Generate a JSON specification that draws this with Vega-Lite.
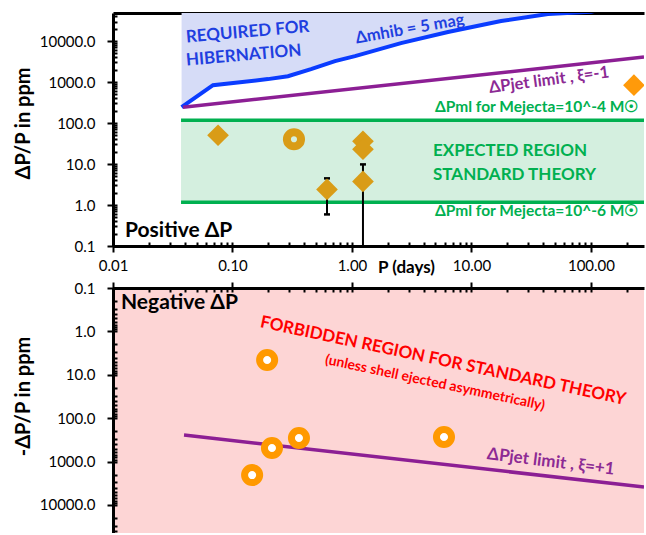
{
  "$schema": "https://vega.github.io/schema/vega-lite/v6.json",
  "background": "white",
  "padding": {"left": 13, "top": 13, "right": 0, "bottom": 0},
  "spacing": 42,
  "bounds": "flush",
  "config": {
    "font": "Lato",
    "view": {"stroke": null},
    "axis": {"domainColor": "black", "domainWidth": 3, "tickColor": "black", "tickWidth": 2, "labelFont": "Lato", "labelFontSize": 15, "labelColor": "black", "titleFont": "Lato", "titleFontSize": 20, "titleFontWeight": "bold", "titleColor": "black", "grid": false, "labelFlush": false, "labelOverlap": false}
  },
  "vconcat": [
    {
      "width": 531,
      "height": 233,
      "resolve": {"axis": {"x": "independent", "y": "independent"}},
      "layer": [
        {
          "data": {"values": [{"P": 0.0375, "v": 243}, {"P": 0.0687, "v": 840}, {"P": 0.198, "v": 1180}, {"P": 0.291, "v": 1390}, {"P": 0.454, "v": 2070}, {"P": 0.721, "v": 3240}, {"P": 1.06, "v": 4300}, {"P": 2.57, "v": 8930}, {"P": 6.36, "v": 16600}, {"P": 17.7, "v": 30800}, {"P": 43.7, "v": 45700}, {"P": 100, "v": 52000}, {"P": 278, "v": 95000}]},
          "mark": {"type": "area", "color": "#d6dcf7", "clip": true},
          "encoding": {
            "x": {"field": "P", "type": "quantitative", "scale": {"type": "log", "domain": [0.01, 278], "nice": false}, "axis": {"orient": "bottom", "values": [0.01, 0.1, 1, 10, 100], "format": ".2f", "tickSize": 6, "labelPadding": 6, "title": "P (days)", "titleFontSize": 17, "titleX": 293, "titleY": 21, "titleBaseline": "middle", "titleAlign": "center", "titleAnchor": null}},
            "y": {"field": "v", "type": "quantitative", "scale": {"type": "log", "domain": [0.1, 48400], "nice": false}, "axis": {"orient": "left", "values": [0.1, 1, 10, 100, 1000, 10000], "format": ".1f", "tickSize": 6, "labelPadding": 12, "title": "ΔP/P  in ppm", "titlePadding": 6, "titleY": 110}},
            "y2": {"datum": 48400}
          }
        },
        {
          "data": {"values": [{"P1": 0.0371, "P2": 278, "lo": 1.16, "hi": 117}]},
          "mark": {"type": "rect", "color": "#d4efdf"},
          "encoding": {
            "x": {"field": "P1", "type": "quantitative", "scale": {"type": "log", "domain": [0.01, 278], "nice": false}, "axis": {"orient": "bottom", "values": [0.01, 0.1, 1, 10, 100], "tickSize": -4, "labels": false, "domain": false, "title": null}},
            "x2": {"field": "P2"},
            "y": {"field": "lo", "type": "quantitative", "scale": {"type": "log", "domain": [0.1, 48400], "nice": false}, "axis": {"orient": "left", "values": [0.1, 1, 10, 100, 1000, 10000], "tickSize": -4, "labels": false, "domain": false, "title": null}},
            "y2": {"field": "hi"}
          }
        },
        {
          "data": {"values": [{"P1": 0.0371, "P2": 278, "v": 117}, {"P1": 0.0371, "P2": 278, "v": 1.16}]},
          "mark": {"type": "rule", "color": "#00b050", "strokeWidth": 3.5},
          "encoding": {
            "x": {"field": "P1", "type": "quantitative", "scale": {"type": "log", "domain": [0.01, 278], "nice": false}, "axis": {"orient": "bottom", "values": [0.02, 0.03, 0.04, 0.05, 0.06, 0.07, 0.08, 0.09, 0.2, 0.3, 0.4, 0.5, 0.6, 0.7, 0.8, 0.9, 2, 3, 4, 5, 6, 7, 8, 9, 20, 30, 40, 50, 60, 70, 80, 90, 200], "tickSize": -4, "labels": false, "domain": false, "title": null}},
            "x2": {"field": "P2"},
            "y": {"field": "v", "type": "quantitative", "scale": {"type": "log", "domain": [0.1, 48400], "nice": false}, "axis": {"orient": "left", "values": [0.2, 0.3, 0.4, 0.5, 0.6, 0.7, 0.8, 0.9, 2, 3, 4, 5, 6, 7, 8, 9, 20, 30, 40, 50, 60, 70, 80, 90, 200, 300, 400, 500, 600, 700, 800, 900, 2000, 3000, 4000, 5000, 6000, 7000, 8000, 9000, 20000, 30000, 40000], "tickSize": -4, "labels": false, "domain": false, "title": null}}
          }
        },
        {
          "data": {"values": [{"P": 0.0375, "v": 243}, {"P": 0.0687, "v": 840}, {"P": 0.198, "v": 1180}, {"P": 0.291, "v": 1390}, {"P": 0.454, "v": 2070}, {"P": 0.721, "v": 3240}, {"P": 1.06, "v": 4300}, {"P": 2.57, "v": 8930}, {"P": 6.36, "v": 16600}, {"P": 17.7, "v": 30800}, {"P": 43.7, "v": 45700}, {"P": 100, "v": 52000}, {"P": 278, "v": 95000}]},
          "mark": {"type": "line", "color": "#0a3cff", "strokeWidth": 4, "clip": true},
          "encoding": {
            "x": {"field": "P", "type": "quantitative", "scale": {"type": "log", "domain": [0.01, 278], "nice": false}, "axis": {"orient": "top", "ticks": false, "labels": false, "domain": true, "title": null}},
            "y": {"field": "v", "type": "quantitative", "scale": {"type": "log", "domain": [0.1, 48400], "nice": false}, "axis": null}
          }
        },
        {
          "data": {"values": [{"P": 0.0385, "v": 243}, {"P": 278, "v": 4060}]},
          "mark": {"type": "line", "color": "#8c1f94", "strokeWidth": 3.5, "clip": true},
          "encoding": {
            "x": {"field": "P", "type": "quantitative", "scale": {"type": "log", "domain": [0.01, 278], "nice": false}, "axis": null},
            "y": {"field": "v", "type": "quantitative", "scale": {"type": "log", "domain": [0.1, 48400], "nice": false}, "axis": null}
          }
        },
        {
          "data": {"values": [{"P": 0.618, "lo": 0.59, "hi": 4.47}, {"P": 1.236, "lo": 0.1, "hi": 9.8}]},
          "mark": {"type": "rule", "color": "black", "strokeWidth": 2},
          "encoding": {
            "x": {"field": "P", "type": "quantitative", "scale": {"type": "log", "domain": [0.01, 278], "nice": false}, "axis": null},
            "y": {"field": "lo", "type": "quantitative", "scale": {"type": "log", "domain": [0.1, 48400], "nice": false}, "axis": null},
            "y2": {"field": "hi"}
          }
        },
        {
          "data": {"values": [{"P": 0.618, "v": 0.59}, {"P": 0.618, "v": 4.47}, {"P": 1.236, "v": 9.8}]},
          "mark": {"type": "tick", "orient": "horizontal", "color": "black", "size": 6, "thickness": 2.5, "opacity": 1},
          "encoding": {
            "x": {"field": "P", "type": "quantitative", "scale": {"type": "log", "domain": [0.01, 278], "nice": false}, "axis": null},
            "y": {"field": "v", "type": "quantitative", "scale": {"type": "log", "domain": [0.1, 48400], "nice": false}, "axis": null}
          }
        },
        {
          "data": {"values": [{"P": 0.0757, "v": 50.3}, {"P": 0.618, "v": 2.4}, {"P": 1.236, "v": 35.9}, {"P": 1.236, "v": 22.9}, {"P": 1.236, "v": 3.77}]},
          "mark": {"type": "point", "shape": "diamond", "filled": true, "color": "#d99c17", "size": 470, "opacity": 1},
          "encoding": {
            "x": {"field": "P", "type": "quantitative", "scale": {"type": "log", "domain": [0.01, 278], "nice": false}, "axis": null},
            "y": {"field": "v", "type": "quantitative", "scale": {"type": "log", "domain": [0.1, 48400], "nice": false}, "axis": null}
          }
        },
        {
          "data": {"values": [{"P": 0.327, "v": 40.2}]},
          "mark": {"type": "point", "shape": "circle", "filled": false, "color": "#d99c17", "strokeWidth": 8, "size": 200, "opacity": 1},
          "encoding": {
            "x": {"field": "P", "type": "quantitative", "scale": {"type": "log", "domain": [0.01, 278], "nice": false}, "axis": null},
            "y": {"field": "v", "type": "quantitative", "scale": {"type": "log", "domain": [0.1, 48400], "nice": false}, "axis": null}
          }
        },
        {
          "data": {"values": [{"P": 229, "v": 840}]},
          "mark": {"type": "point", "shape": "diamond", "filled": true, "color": "#ff9a0a", "size": 470, "opacity": 1, "clip": true},
          "encoding": {
            "x": {"field": "P", "type": "quantitative", "scale": {"type": "log", "domain": [0.01, 278], "nice": false}, "axis": null},
            "y": {"field": "v", "type": "quantitative", "scale": {"type": "log", "domain": [0.1, 48400], "nice": false}, "axis": null}
          }
        },
        {
          "data": {"values": [{"P": 0.0408, "v": 12200, "t": "REQUIRED FOR"}, {"P": 0.0408, "v": 3330, "t": "HIBERNATION"}]},
          "mark": {"type": "text", "font": "Lato", "fontWeight": "bold", "fontSize": 17, "color": "#1f3fe0", "angle": -5, "align": "left", "baseline": "middle", "clip": true},
          "encoding": {
            "x": {"field": "P", "type": "quantitative", "scale": {"type": "log", "domain": [0.01, 278], "nice": false}, "axis": null},
            "y": {"field": "v", "type": "quantitative", "scale": {"type": "log", "domain": [0.1, 48400], "nice": false}, "axis": null},
            "text": {"field": "t"}
          }
        },
        {
          "data": {"values": [{"P": 3.05, "v": 19600, "t": "Δmhib = 5 mag"}]},
          "mark": {"type": "text", "font": "Lato", "fontWeight": "bold", "fontSize": 16.5, "color": "#1f3fe0", "angle": -10, "align": "center", "baseline": "middle", "clip": true},
          "encoding": {
            "x": {"field": "P", "type": "quantitative", "scale": {"type": "log", "domain": [0.01, 278], "nice": false}, "axis": null},
            "y": {"field": "v", "type": "quantitative", "scale": {"type": "log", "domain": [0.1, 48400], "nice": false}, "axis": null},
            "text": {"field": "t"}
          }
        },
        {
          "data": {"values": [{"P": 44.6, "v": 1110, "t": "ΔPjet limit , ξ=-1"}]},
          "mark": {"type": "text", "font": "Lato", "fontWeight": "bold", "fontSize": 16.5, "color": "#8c2a94", "angle": -7.5, "align": "center", "baseline": "middle", "clip": true},
          "encoding": {
            "x": {"field": "P", "type": "quantitative", "scale": {"type": "log", "domain": [0.01, 278], "nice": false}, "axis": null},
            "y": {"field": "v", "type": "quantitative", "scale": {"type": "log", "domain": [0.1, 48400], "nice": false}, "axis": null},
            "text": {"field": "t"}
          }
        },
        {
          "data": {"values": [{"P": 4.95, "v": 243, "t": "ΔPml for Mejecta=10^-4 M☉"}, {"P": 4.95, "v": 0.698, "t": "ΔPml for Mejecta=10^-6 M☉"}]},
          "mark": {"type": "text", "font": "Lato", "fontWeight": "bold", "fontSize": 15.5, "color": "#00b050", "align": "left", "baseline": "middle", "clip": true},
          "encoding": {
            "x": {"field": "P", "type": "quantitative", "scale": {"type": "log", "domain": [0.01, 278], "nice": false}, "axis": null},
            "y": {"field": "v", "type": "quantitative", "scale": {"type": "log", "domain": [0.1, 48400], "nice": false}, "axis": null},
            "text": {"field": "t"}
          }
        },
        {
          "data": {"values": [{"P": 4.77, "v": 20.4, "t": "EXPECTED REGION"}, {"P": 4.77, "v": 5.3, "t": "STANDARD THEORY"}]},
          "mark": {"type": "text", "font": "Lato", "fontWeight": "bold", "fontSize": 17, "color": "#00b050", "align": "left", "baseline": "middle", "clip": true},
          "encoding": {
            "x": {"field": "P", "type": "quantitative", "scale": {"type": "log", "domain": [0.01, 278], "nice": false}, "axis": null},
            "y": {"field": "v", "type": "quantitative", "scale": {"type": "log", "domain": [0.1, 48400], "nice": false}, "axis": null},
            "text": {"field": "t"}
          }
        },
        {
          "data": {"values": [{"P": 0.0126, "v": 0.226, "t": "Positive ΔP"}]},
          "mark": {"type": "text", "font": "Lato", "fontWeight": "bold", "fontSize": 21, "color": "black", "align": "left", "baseline": "middle", "clip": true},
          "encoding": {
            "x": {"field": "P", "type": "quantitative", "scale": {"type": "log", "domain": [0.01, 278], "nice": false}, "axis": null},
            "y": {"field": "v", "type": "quantitative", "scale": {"type": "log", "domain": [0.1, 48400], "nice": false}, "axis": null},
            "text": {"field": "t"}
          }
        }
      ]
    },
    {
      "width": 531,
      "height": 245,
      "view": {"fill": "#fdd5d5", "stroke": null},
      "resolve": {"axis": {"x": "independent", "y": "independent"}},
      "layer": [
        {
          "data": {"values": [{"P": 0.0393, "v": 244}, {"P": 278, "v": 3850}]},
          "mark": {"type": "line", "color": "#8c1f94", "strokeWidth": 3.5, "clip": true},
          "encoding": {
            "x": {"field": "P", "type": "quantitative", "scale": {"type": "log", "domain": [0.01, 278], "nice": false}, "axis": {"orient": "top", "values": [0.01, 0.1, 1, 10, 100], "tickSize": 6, "labels": false, "domain": true, "title": null}},
            "y": {"field": "v", "type": "quantitative", "scale": {"type": "log", "domain": [0.1, 44200], "nice": false, "reverse": true}, "axis": {"orient": "left", "values": [0.1, 1, 10, 100, 1000, 10000], "format": ".1f", "tickSize": 6, "labelPadding": 12, "title": "-ΔP/P  in ppm", "titlePadding": 6, "titleY": 108}}
          }
        },
        {
          "data": {"values": [{"P": 0.195, "v": 4.56}, {"P": 0.214, "v": 486}, {"P": 0.146, "v": 2040}, {"P": 0.36, "v": 286}, {"P": 5.89, "v": 271}]},
          "mark": {"type": "point", "shape": "circle", "filled": true, "fill": "white", "stroke": "#ff9900", "strokeWidth": 7, "size": 227, "opacity": 1},
          "encoding": {
            "x": {"field": "P", "type": "quantitative", "scale": {"type": "log", "domain": [0.01, 278], "nice": false}, "axis": {"orient": "top", "values": [0.01, 0.1, 1, 10, 100], "tickSize": -4, "labels": false, "domain": false, "title": null}},
            "y": {"field": "v", "type": "quantitative", "scale": {"type": "log", "domain": [0.1, 44200], "nice": false, "reverse": true}, "axis": {"orient": "left", "values": [0.1, 1, 10, 100, 1000, 10000], "tickSize": -4, "labels": false, "domain": false, "title": null}}
          }
        },
        {
          "data": {"values": [{"P": 5.78, "v": 4.81, "t": "FORBIDDEN REGION FOR STANDARD THEORY"}]},
          "mark": {"type": "text", "font": "Lato", "fontWeight": "bold", "fontSize": 17, "color": "#ff0000", "angle": 12, "align": "center", "baseline": "middle", "clip": true},
          "encoding": {
            "x": {"field": "P", "type": "quantitative", "scale": {"type": "log", "domain": [0.01, 278], "nice": false}, "axis": {"orient": "top", "values": [0.02, 0.03, 0.04, 0.05, 0.06, 0.07, 0.08, 0.09, 0.2, 0.3, 0.4, 0.5, 0.6, 0.7, 0.8, 0.9, 2, 3, 4, 5, 6, 7, 8, 9, 20, 30, 40, 50, 60, 70, 80, 90, 200], "tickSize": -4, "labels": false, "domain": false, "title": null}},
            "y": {"field": "v", "type": "quantitative", "scale": {"type": "log", "domain": [0.1, 44200], "nice": false, "reverse": true}, "axis": {"orient": "left", "values": [0.2, 0.3, 0.4, 0.5, 0.6, 0.7, 0.8, 0.9, 2, 3, 4, 5, 6, 7, 8, 9, 20, 30, 40, 50, 60, 70, 80, 90, 200, 300, 400, 500, 600, 700, 800, 900, 2000, 3000, 4000, 5000, 6000, 7000, 8000, 9000, 20000, 30000, 40000], "tickSize": -4, "labels": false, "domain": false, "title": null}},
            "text": {"field": "t"}
          }
        },
        {
          "data": {"values": [{"P": 4.95, "v": 15.5, "t": "(unless shell ejected asymmetrically)"}]},
          "mark": {"type": "text", "font": "Lato", "fontWeight": "bold", "fontSize": 14, "color": "#ff0000", "angle": 12, "align": "center", "baseline": "middle", "clip": true},
          "encoding": {
            "x": {"field": "P", "type": "quantitative", "scale": {"type": "log", "domain": [0.01, 278], "nice": false}, "axis": null},
            "y": {"field": "v", "type": "quantitative", "scale": {"type": "log", "domain": [0.1, 44200], "nice": false, "reverse": true}, "axis": null},
            "text": {"field": "t"}
          }
        },
        {
          "data": {"values": [{"P": 46.2, "v": 1020, "t": "ΔPjet  limit , ξ=+1"}]},
          "mark": {"type": "text", "font": "Lato", "fontWeight": "bold", "fontSize": 17, "color": "#8c2a94", "angle": 7, "align": "center", "baseline": "middle", "clip": true},
          "encoding": {
            "x": {"field": "P", "type": "quantitative", "scale": {"type": "log", "domain": [0.01, 278], "nice": false}, "axis": null},
            "y": {"field": "v", "type": "quantitative", "scale": {"type": "log", "domain": [0.1, 44200], "nice": false, "reverse": true}, "axis": null},
            "text": {"field": "t"}
          }
        },
        {
          "data": {"values": [{"P": 0.01167, "v": 0.222, "t": "Negative ΔP"}]},
          "mark": {"type": "text", "font": "Lato", "fontWeight": "bold", "fontSize": 21, "color": "black", "align": "left", "baseline": "middle", "clip": true},
          "encoding": {
            "x": {"field": "P", "type": "quantitative", "scale": {"type": "log", "domain": [0.01, 278], "nice": false}, "axis": null},
            "y": {"field": "v", "type": "quantitative", "scale": {"type": "log", "domain": [0.1, 44200], "nice": false, "reverse": true}, "axis": null},
            "text": {"field": "t"}
          }
        }
      ]
    }
  ]
}
